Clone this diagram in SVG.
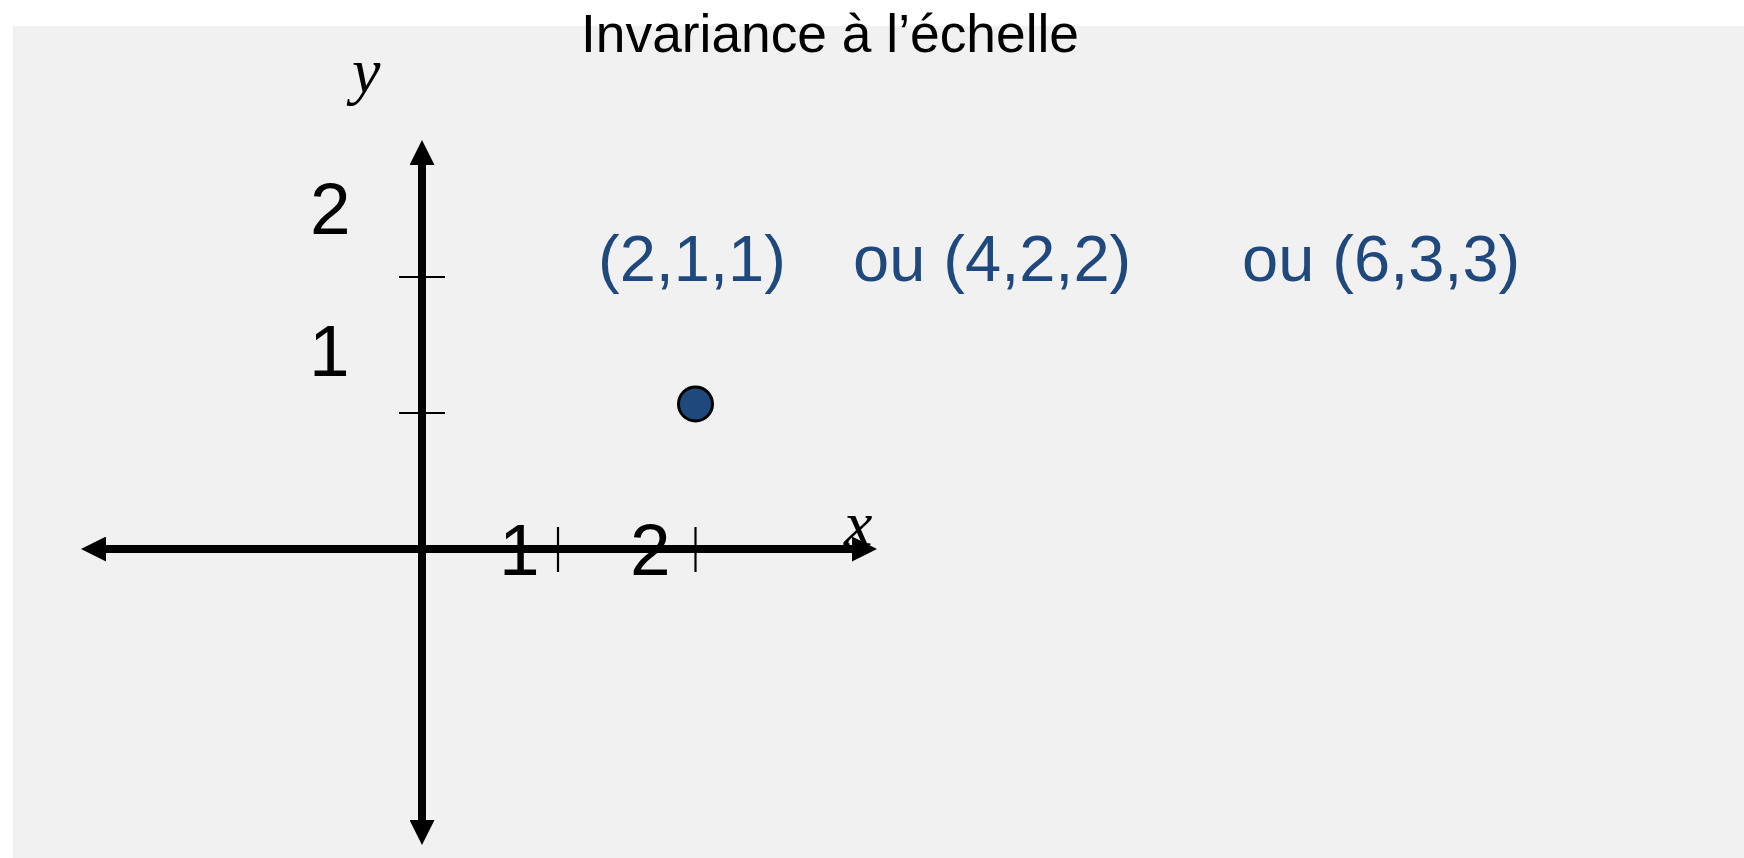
<svg xmlns="http://www.w3.org/2000/svg" width="1744" height="858" viewBox="0 0 1744 858">
  <defs>
    <marker id="ah" markerUnits="userSpaceOnUse" markerWidth="25" markerHeight="25" refX="0" refY="12.5" orient="auto-start-reverse">
      <path d="M0,0 L25,12.5 L0,25 Z" fill="#000"/>
    </marker>
    <style>
      .axis { stroke:#000; stroke-width:8; fill:none; }
      .tick { stroke:#000; stroke-width:2.2; fill:none; }
      .num { font-family:"Liberation Sans", Arial, sans-serif; font-size:73px; fill:#000; }
      .var { font-family:"Liberation Serif", "Times New Roman", serif; font-style:italic; font-size:64px; fill:#000; }
      .coord { font-family:"Liberation Sans", Arial, sans-serif; font-size:65px; fill:#1F497D; }
      .title { font-family:"Liberation Sans", Arial, sans-serif; font-size:53px; fill:#000; }
    </style>
  </defs>
  <rect x="0" y="0" width="1744" height="858" fill="#FFFFFF"/>
  <rect x="13" y="26" width="1731" height="832" fill="#F1F1F1"/>

  <g id="title">
    <text class="title" x="581" y="52" textLength="498" lengthAdjust="spacingAndGlyphs">Invariance à l’échelle</text>
  </g>

  <g id="connectors">
    <line class="axis" x1="422" y1="820" x2="422" y2="165" marker-start="url(#ah)" marker-end="url(#ah)"/>
    <line class="axis" x1="106" y1="549" x2="852" y2="549" marker-start="url(#ah)" marker-end="url(#ah)"/>
    <line class="tick" x1="399" y1="277" x2="445" y2="277"/>
    <line class="tick" x1="399" y1="413" x2="445" y2="413"/>
    <line class="tick" x1="558" y1="527" x2="558" y2="572"/>
    <line class="tick" x1="695.5" y1="527" x2="695.5" y2="572"/>
  </g>

  <g id="y-label"><text class="var" x="352" y="92">y</text></g>
  <g id="x-label"><text class="var" x="844" y="545">x</text></g>

  <g id="y-tick-2"><text class="num" x="310" y="234">2</text></g>
  <g id="y-tick-1"><text class="num" x="309" y="376">1</text></g>
  <g id="x-tick-1"><text class="num" x="499" y="575">1</text></g>
  <g id="x-tick-2"><text class="num" x="630" y="575">2</text></g>

  <g id="coords">
    <text class="coord" x="598" y="281">(2,1,1)</text>
    <text class="coord" x="853" y="281">ou (4,2,2)</text>
    <text class="coord" x="1242" y="281">ou (6,3,3)</text>
  </g>

  <g id="point">
    <circle cx="695.5" cy="404" r="17" fill="#1F497D" stroke="#000" stroke-width="3"/>
  </g>
</svg>
